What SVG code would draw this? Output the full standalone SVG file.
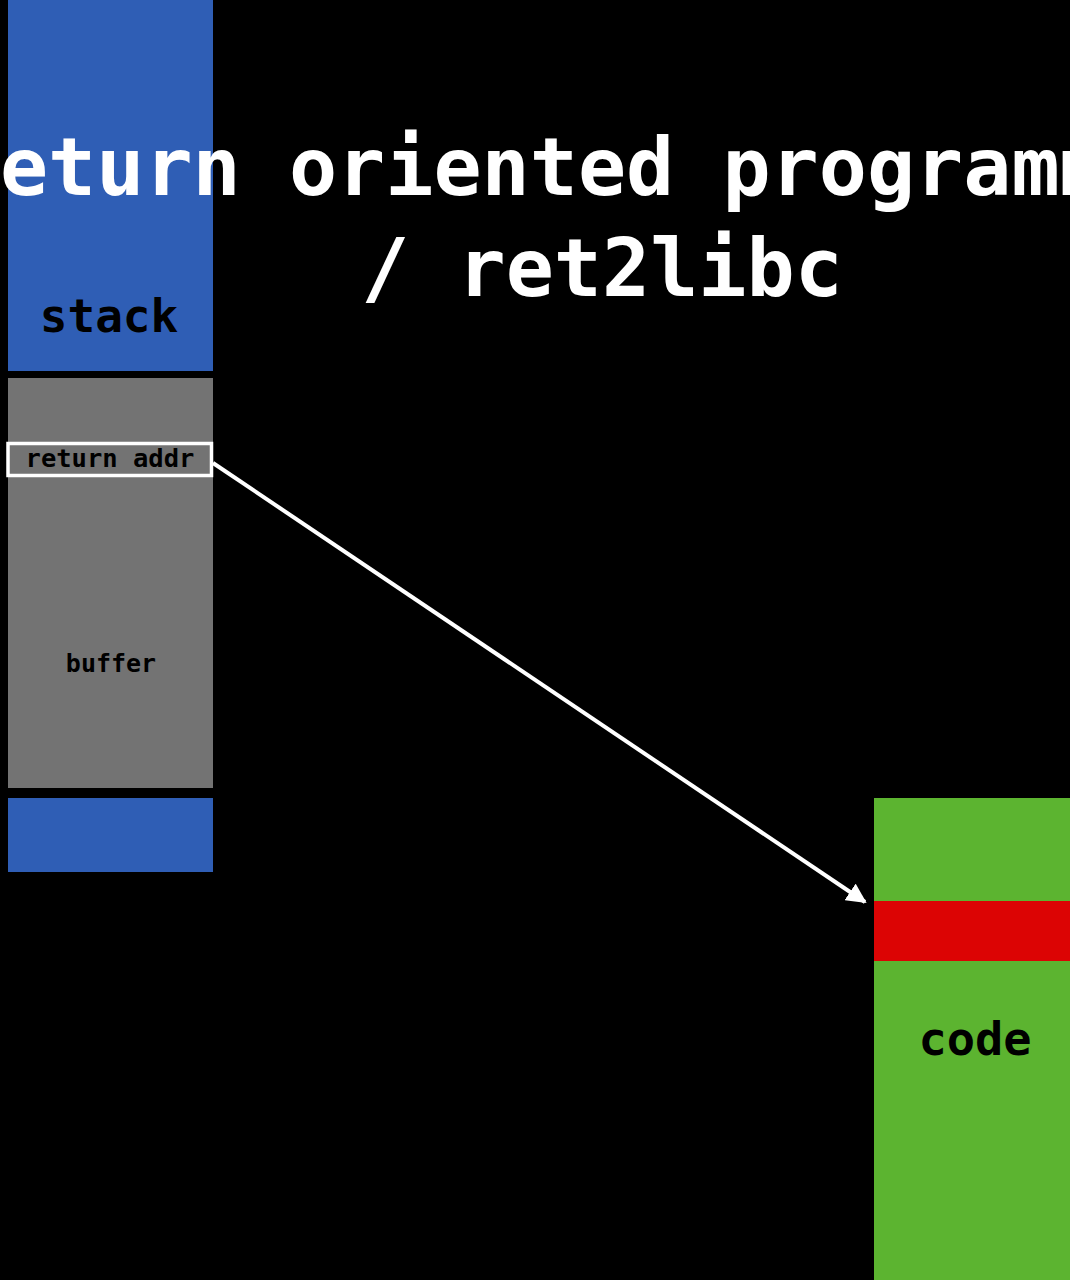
<svg xmlns="http://www.w3.org/2000/svg" width="1070" height="1280" viewBox="0 0 1070 1280">
<style>
.mono{font-family:"DejaVu Sans Mono","Liberation Mono",monospace;font-weight:bold;text-anchor:middle}
.title{fill:#ffffff;font-size:80px}
.lbl{fill:#000000}
</style>
<defs>
<marker id="ah" markerWidth="5" markerHeight="5" refX="4.5" refY="2.5" orient="auto" markerUnits="strokeWidth">
<path d="M0,0 L5,2.5 L0,5 Z" fill="#ffffff"/>
</marker>
</defs>
<rect x="0" y="0" width="1070" height="1280" fill="#000000"/>
<g id="stack">
<rect x="8" y="0" width="205" height="371" fill="#2f5eb5"/>
<text class="mono lbl" x="109" y="332" font-size="46">stack</text>
</g>
<g id="buffer">
<rect x="8" y="378" width="205" height="410" fill="#737373"/>
<text class="mono lbl" x="111" y="672" font-size="25">buffer</text>
</g>
<g id="return-addr">
<rect x="8" y="443.5" width="203.5" height="32" fill="#737373" stroke="#ffffff" stroke-width="3.5"/>
<text class="mono lbl" x="110" y="467" font-size="25.5">return addr</text>
</g>
<g id="stack-bottom">
<rect x="8" y="798" width="205" height="74" fill="#2f5eb5"/>
</g>
<g id="code">
<rect x="874" y="798" width="196" height="482" fill="#5cb430"/>
<text class="mono lbl" x="975" y="1055" font-size="47">code</text>
</g>
<g id="gadget">
<rect x="874" y="901" width="196" height="60" fill="#dc0404"/>
</g>
<g id="title">
<text class="mono title" x="602" y="195">return oriented programming</text>
<text class="mono title" x="602" y="296">/ ret2libc</text>
</g>
<g id="connectors">
<line x1="213" y1="463" x2="865" y2="902" stroke="#ffffff" stroke-width="4" marker-end="url(#ah)"/>
</g>
</svg>
